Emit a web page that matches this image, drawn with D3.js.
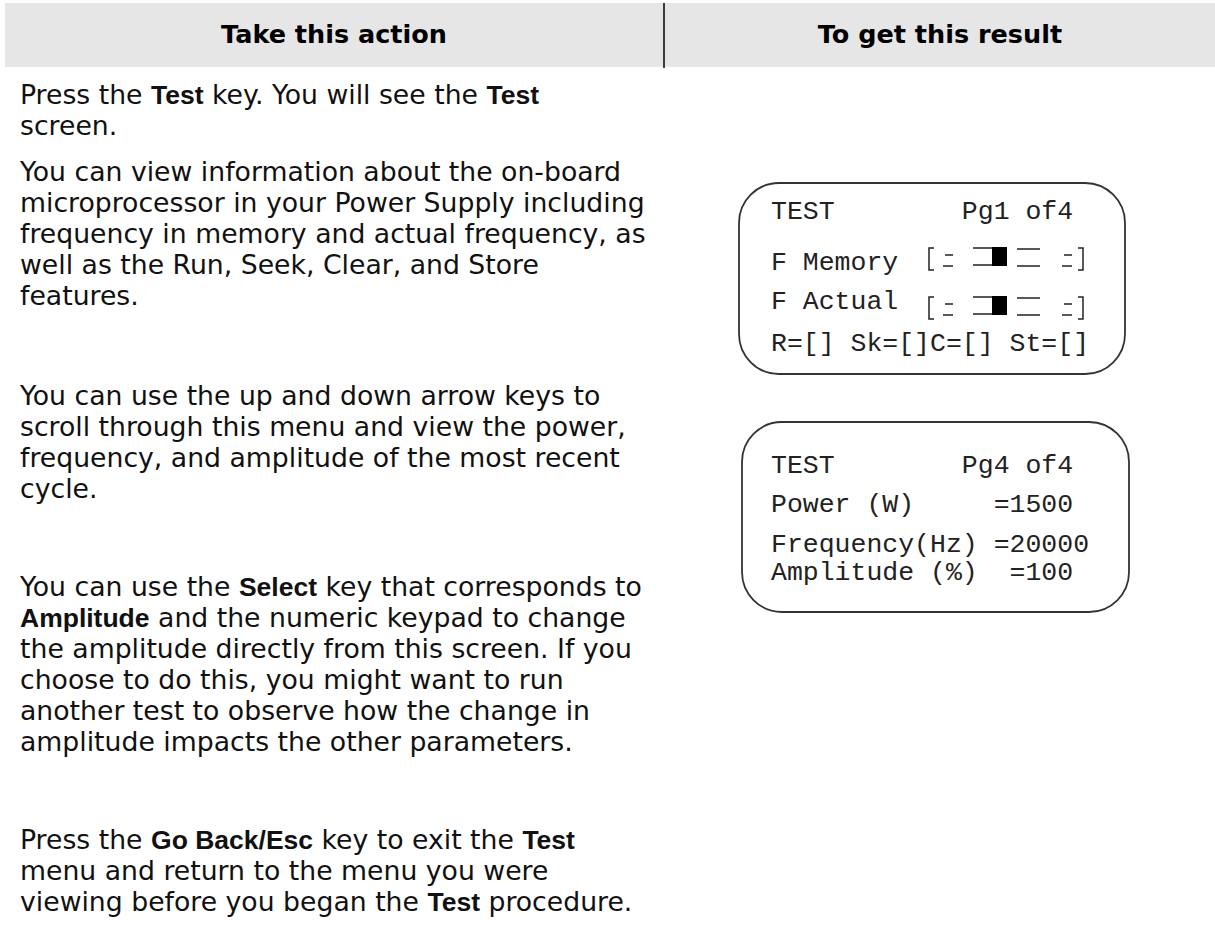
<!DOCTYPE html>
<html>
<head>
<meta charset="utf-8">
<script src="https://cdn.jsdelivr.net/npm/d3@7"></script>
<style>
  html, body { margin: 0; padding: 0; background: #fff; }
  svg { display: block; }
</style>
</head>
<body>
<svg id="chart" width="1215" height="932"></svg>
<script>
// ---------- DATA ----------
const headers = ["Take this action", "To get this result"];

// each paragraph: list of lines; each line: list of [text, bold]
const para1 = [
  [["Press the ", false], ["Test", true], [" key. You will see the ", false], ["Test", true]],
  [["screen.", false]]
];
const para2 = [
  [["You can view information about the on-board", false]],
  [["microprocessor in your Power Supply including", false]],
  [["frequency in memory and actual frequency, as", false]],
  [["well as the Run, Seek, Clear, and Store", false]],
  [["features.", false]]
];
const para3 = [
  [["You can use the up and down arrow keys to", false]],
  [["scroll through this menu and view the power,", false]],
  [["frequency, and amplitude of the most recent", false]],
  [["cycle.", false]]
];
const para4 = [
  [["You can use the ", false], ["Select", true], [" key that corresponds to", false]],
  [["Amplitude", true], [" and the numeric keypad to change", false]],
  [["the amplitude directly from this screen. If you", false]],
  [["choose to do this, you might want to run", false]],
  [["another test to observe how the change in", false]],
  [["amplitude impacts the other parameters.", false]]
];
const para5 = [
  [["Press the ", false], ["Go Back/Esc", true], [" key to exit the ", false], ["Test", true]],
  [["menu and return to the menu you were", false]],
  [["viewing before you began the ", false], ["Test", true], [" procedure.", false]]
];

// LCD screen 1 (Pg1 of4)
const screen1Lines = ["TEST        Pg1 of4", "F Memory", "F Actual", "R=[] Sk=[]C=[] St=[]"];
const screen1Bars = [
  { label: "F Memory", active: 2 },
  { label: "F Actual", active: 2 }
];
const barSegments = ["short", "half", "full", "long", "short"];

// LCD screen 2 (Pg4 of4)
const screen2Lines = ["TEST        Pg4 of4", "Power (W)     =1500", "Frequency(Hz) =20000", "Amplitude (%)  =100"];

// ---------- LAYOUT ----------
const W = 1215, H = 932;
const svg = d3.select("#chart");
svg.append("rect").attr("width", W).attr("height", H).attr("fill", "#fff");

const headerTop = 3, headerBot = 67, divX = 664;
svg.append("rect").attr("x", 5).attr("y", headerTop).attr("width", W - 5).attr("height", headerBot - headerTop)
  .attr("fill", "#e6e6e6");
svg.append("line").attr("x1", divX).attr("x2", divX).attr("y1", headerTop).attr("y2", headerBot + 1)
  .attr("stroke", "#000").attr("stroke-width", 1.5);

const colCenter = d3.scalePoint().domain(headers).range([334, 940]);
svg.selectAll("text.hdr").data(headers).join("text")
  .attr("class", "hdr")
  .attr("x", d => colCenter(d)).attr("y", 43)
  .attr("text-anchor", "middle")
  .attr("font-family", "DejaVu Sans, Verdana, sans-serif")
  .attr("font-weight", "bold").attr("font-size", 25.5)
  .text(d => d);

// body paragraphs
const bodyFont = "DejaVu Sans, Verdana, sans-serif";
const boldFont = "Liberation Sans, Arial, sans-serif";
const lineGap = 31;
const paragraphs = [
  { lines: para1, y0: 104 },
  { lines: para2, y0: 181 },
  { lines: para3, y0: 405 },
  { lines: para4, y0: 596 },
  { lines: para5, y0: 849 }
];
const body = svg.append("g");
paragraphs.forEach(p => {
  const t = body.selectAll(null).data(p.lines).join("text")
    .attr("x", 20)
    .attr("y", (d, i) => p.y0 + i * lineGap)
    .attr("fill", "#111")
    .attr("xml:space", "preserve")
    .style("white-space", "pre");
  t.selectAll("tspan").data(d => d).join("tspan")
    .attr("font-family", d => d[1] ? boldFont : bodyFont)
    .attr("font-weight", d => d[1] ? "bold" : "normal")
    .attr("font-size", d => d[1] ? 26.5 : 26.7)
    .text(d => d[0]);
});

// ---------- LCD screens ----------
const mono = "Liberation Mono, Courier New, monospace";
const monoSize = 26.5;

function drawScreen(box, lines, baselines) {
  const g = svg.append("g");
  g.append("rect")
    .attr("x", box.x).attr("y", box.y).attr("width", box.w).attr("height", box.h)
    .attr("rx", 40).attr("ry", 40)
    .attr("fill", "none").attr("stroke", "#333").attr("stroke-width", 1.8);
  g.selectAll("text").data(lines).join("text")
    .attr("x", 771).attr("y", (d, i) => baselines[i])
    .attr("font-family", mono).attr("font-size", monoSize)
    .attr("fill", "#222")
    .attr("xml:space", "preserve").style("white-space", "pre")
    .text(d => d);
  return g;
}

const g1 = drawScreen({ x: 739, y: 183, w: 386, h: 191 }, screen1Lines, [219, 270, 309, 351]);
drawScreen({ x: 742, y: 422, w: 387, h: 190 }, screen2Lines, [473, 512, 552, 580]);

// bar graph geometry (pixel offsets of each segment type inside the bracket)
const segGeom = {
  short: (i) => i === 0 ? { x: 943, w: 10 } : { x: 1062, w: 10 },
  half: () => ({ x: 973, w: 19 }),
  full: () => ({ x: 992, w: 15 }),
  long: () => ({ x: 1017, w: 23 })
};
const barTops = [248, 297];
screen1Bars.forEach((b, r) => {
  const T = barTops[r], Hb = 22;
  const bg = g1.append("g").attr("stroke", "#222").attr("stroke-width", 1.5).attr("fill", "none");
  bg.append("path").attr("d", `M934,${T} h-5 v${Hb} h5`);
  bg.append("path").attr("d", `M1078,${T} h5 v${Hb} h-5`);
  barSegments.forEach((s, i) => {
    const gm = segGeom[s](i);
    if (i === b.active) {
      bg.append("rect").attr("x", gm.x).attr("y", T - 1).attr("width", gm.w).attr("height", 19)
        .attr("fill", "#000").attr("stroke", "none");
    } else if (s === "short") {
      bg.append("line").attr("x1", gm.x + 2).attr("x2", gm.x + gm.w).attr("y1", T + 7).attr("y2", T + 7);
      bg.append("line").attr("x1", gm.x).attr("x2", gm.x + gm.w).attr("y1", T + 18).attr("y2", T + 18);
    } else if (s === "half") {
      bg.append("path").attr("d", `M${gm.x},${T} H${gm.x + gm.w + 1} M${gm.x},${T + 17} H${gm.x + gm.w + 1}`);
    } else if (s === "long") {
      bg.append("path").attr("d", `M${gm.x},${T + 1} H${gm.x + gm.w} M${gm.x},${T + 18} H${gm.x + gm.w}`);
    }
  });
});
</script>
</body>
</html>
